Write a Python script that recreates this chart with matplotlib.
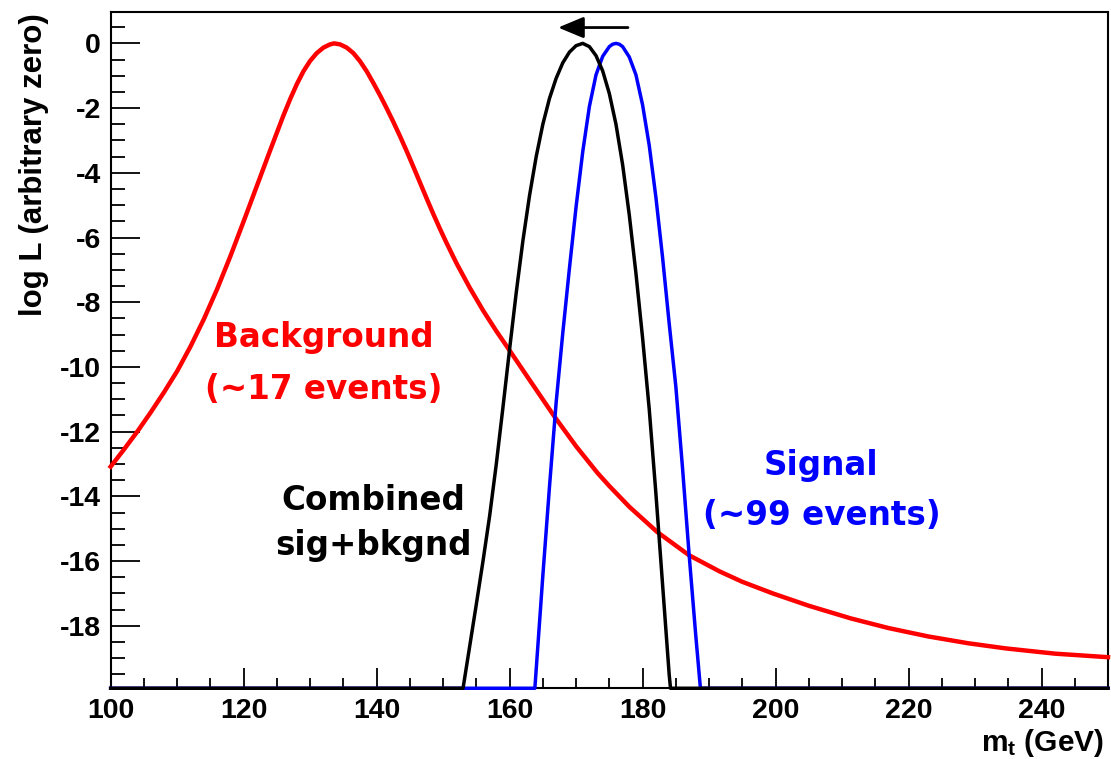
import matplotlib
matplotlib.use("Agg")
import matplotlib.pyplot as plt
from matplotlib.ticker import MultipleLocator

# log L em funcao de m_t para as tres hipoteses
massa_fundo = [100, 102, 104, 106, 108, 110, 112, 114, 116, 118,
               120, 122, 124, 126, 127, 128, 129, 130, 131, 132,
               133, 133.6, 134.5, 135.5, 136.5, 137.5, 138.5, 139.5, 140.5, 141.5,
               142.5, 143.5, 144.5, 145.5, 146.5, 147.5, 148.5, 149.5, 150.5, 152,
               154, 156, 158, 160, 162.6, 166.7, 170, 173.2, 175, 178,
               182.2, 187, 191.6, 195, 199.6, 205, 211.3, 217, 223, 229,
               234.7, 242, 250]
logl_fundo = [-13.08, -12.55, -12.0, -11.41, -10.79, -10.13, -9.37, -8.53, -7.6, -6.58,
              -5.5, -4.4, -3.3, -2.22, -1.72, -1.26, -0.86, -0.54, -0.3, -0.13,
              -0.03, 0.0, -0.03, -0.13, -0.3, -0.55, -0.86, -1.22, -1.6, -2.0,
              -2.42, -2.86, -3.32, -3.8, -4.29, -4.78, -5.26, -5.72, -6.16, -6.79,
              -7.55, -8.25, -8.89, -9.49, -10.28, -11.52, -12.45, -13.27, -13.68, -14.32,
              -15.1, -15.82, -16.32, -16.64, -17.0, -17.38, -17.77, -18.07, -18.33, -18.54,
              -18.70, -18.86, -18.97]

massa_sinal = [100, 163.8, 164, 165, 166, 167, 168, 169, 170, 171,
               172, 173, 174, 175, 175.5, 176, 176.5, 177, 178, 179,
               180, 181, 182, 183, 184, 185, 186, 187, 188, 188.7,
               250]
logl_sinal = [-19.93, -19.93, -19.35, -16.45, -13.7, -11.1, -8.95, -6.95, -5.05, -3.35,
              -1.95, -0.97, -0.4, -0.1, -0.025, 0.0, -0.025, -0.1, -0.42, -0.97,
              -1.9, -3.15, -4.75, -6.6, -8.65, -10.6, -13.1, -15.8, -18.3, -19.93,
              -19.93]

massa_comb = [100, 153, 154, 155, 156, 157, 158, 159, 160, 161,
              162, 163, 164, 165, 166, 167, 168, 169, 170, 171,
              172, 173, 174, 175, 176, 177, 178, 179, 180, 181,
              182, 183, 184, 184.2, 250]
logl_comb = [-19.93, -19.93, -18.63, -17.33, -16.0, -14.6, -13.0, -11.25, -9.45, -7.7,
             -6.1, -4.7, -3.5, -2.5, -1.7, -1.08, -0.6, -0.27, -0.07, 0.0,
             -0.1, -0.38, -0.85, -1.55, -2.5, -3.75, -5.3, -7.1, -9.1, -11.3,
             -13.9, -16.7, -19.5, -19.93, -19.93]

x_min, x_max = 100, 250
y_min, y_max = -19.93, 0.98

plt.rcParams["font.family"] = ["Liberation Sans", "DejaVu Sans"]
plt.rcParams["font.weight"] = "bold"
plt.rcParams["mathtext.fontset"] = "custom"
plt.rcParams["mathtext.rm"] = "Liberation Sans:bold"
plt.rcParams["mathtext.it"] = "Liberation Sans:bold"
plt.rcParams["mathtext.bf"] = "Liberation Sans:bold"

fig = plt.figure(figsize=(11.11, 7.59), dpi=100)
ax = fig.add_axes([0.0996, 0.0932, 0.8977, 0.8914])

ax.plot(massa_fundo, logl_fundo, color="#ff0000", lw=3.2, zorder=3,
        clip_on=False, solid_joinstyle="round")
ax.plot(massa_sinal, logl_sinal, color="#0000ff", lw=2.5, zorder=4,
        clip_on=False, solid_joinstyle="round")
ax.plot(massa_comb, logl_comb, color="black", lw=2.5, zorder=5,
        clip_on=False, solid_joinstyle="round")

ax.set_xlim(x_min, x_max)
ax.set_ylim(y_min, y_max)

ax.xaxis.set_major_locator(MultipleLocator(20))
ax.xaxis.set_minor_locator(MultipleLocator(5))
ax.yaxis.set_major_locator(MultipleLocator(2))
ax.yaxis.set_minor_locator(MultipleLocator(0.5))

ax.tick_params(axis="both", which="both", direction="in", colors="black",
               top=False, right=False, width=1.3, labelsize=20.5, pad=7)
ax.tick_params(axis="y", which="major", length=21)
ax.tick_params(axis="y", which="minor", length=10)
ax.tick_params(axis="x", which="major", length=14.5)
ax.tick_params(axis="x", which="minor", length=7)
for lab in ax.get_xticklabels() + ax.get_yticklabels():
    lab.set_fontweight("bold")
ax.yaxis.set_major_formatter(plt.FuncFormatter(lambda v, p: "%d" % round(v)))

for lado in ax.spines.values():
    lado.set_linewidth(1.5)
    lado.set_zorder(2)

# titulos dos eixos, alinhados no canto como no ROOT
fig.text(34 / 1111, 1 - 13 / 759, "log L (arbitrary zero)", rotation=90,
         ha="center", va="top", fontsize=22.5, fontweight="bold")
fig.text(1104 / 1111, 1 - 751 / 759, "m$_\\mathrm{t}$ (GeV)",
         ha="right", va="baseline", fontsize=21.5, fontweight="bold")

# rotulos das curvas
fonte = dict(family="DejaVu Sans", fontweight="bold", fontsize=23.5,
             ha="center", va="baseline")
ax.text(132.0, -9.39, "Background", color="#ff0000", **fonte)
ax.text(132.0, -10.99, "(~17 events)", color="#ff0000", **fonte)
ax.text(139.5, -14.42, "Combined", color="black", **fonte)
ax.text(139.5, -15.81, "sig+bkgnd", color="black", **fonte)
ax.text(206.9, -13.34, "Signal", color="#0000ff", **fonte)
ax.text(206.9, -14.89, "(~99 events)", color="#0000ff", **fonte)

# seta indicando o deslocamento do pico
ax.annotate("", xy=(167.3, 0.49), xytext=(177.8, 0.49),
            arrowprops=dict(arrowstyle="-|>,head_length=0.6,head_width=0.25",
                            mutation_scale=26, lw=2.0, color="black",
                            shrinkA=0, shrinkB=0))

fig.savefig("out.png", dpi=100)
